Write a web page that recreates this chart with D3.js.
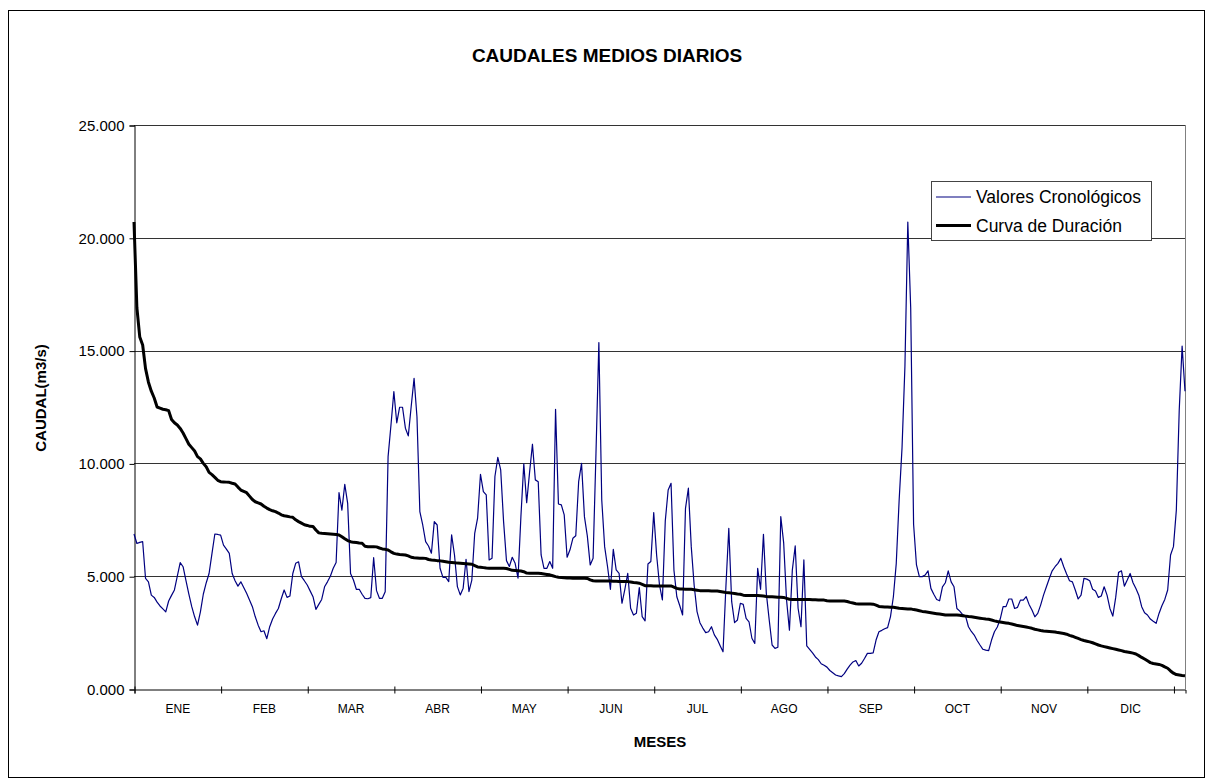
<!DOCTYPE html>
<html>
<head>
<meta charset="utf-8">
<script src="https://cdn.jsdelivr.net/npm/d3@7"></script>
<style>
  body { margin: 0; background: #fff; }
  svg text { font-family: 'Liberation Sans', Arial, sans-serif; fill: #000; }
</style>
</head>
<body>
<div class="main"></div>
<script>
const w = 1208;
const h = 783;

const months = ['ENE', 'FEB', 'MAR', 'ABR', 'MAY', 'JUN', 'JUL', 'AGO', 'SEP', 'OCT', 'NOV', 'DIC'];
const yTicks = [0, 5, 10, 15, 20, 25];
const legendNames = ['Valores Cronológicos', 'Curva de Duración'];

// caudal diario (m3/s), dia 0..364
const cronologicos = [
  6.87, 6.45, 6.5, 6.53, 4.9, 4.75, 4.16, 4.06, 3.85, 3.68,
  3.55, 3.42, 3.9, 4.15, 4.39, 5.0, 5.6, 5.42, 4.8, 4.2,
  3.65, 3.2, 2.83, 3.42, 4.2, 4.7, 5.12, 6.0, 6.87, 6.85,
  6.82, 6.38, 6.2, 6.01, 5.12, 4.8, 4.56, 4.75, 4.5, 4.24,
  3.95, 3.65, 3.2, 2.83, 2.54, 2.58, 2.23, 2.76, 3.1, 3.35,
  3.57, 4.0, 4.39, 4.06, 4.12, 5.12, 5.57, 5.64, 4.98, 4.8,
  4.61, 4.35, 4.09, 3.53, 3.75, 3.97, 4.53, 4.75, 5.0, 5.35,
  5.61, 8.71, 7.93, 9.07, 8.23, 5.12, 4.83, 4.42, 4.42, 4.2,
  4.02, 4.0, 4.05, 5.82, 4.36, 4.02, 4.02, 4.31, 10.3, 11.7,
  13.18, 11.8, 12.49, 12.49, 11.56, 11.22, 12.52, 13.77, 12.07, 7.86,
  7.27, 6.53, 6.34, 6.02, 7.42, 7.27, 5.35, 4.95, 4.95, 4.76,
  6.83, 5.94, 4.54, 4.17, 4.47, 5.75, 4.32, 4.83, 6.9, 7.57,
  9.52, 8.75, 8.6, 5.72, 5.8, 9.42, 10.27, 9.71, 7.42, 5.69,
  5.43, 5.84, 5.57, 4.91, 7.64, 9.98, 8.26, 9.6, 10.85, 9.27,
  9.19, 5.94, 5.35, 5.35, 5.65, 5.35, 12.4, 8.2, 8.16, 7.72,
  5.84, 6.17, 6.68, 6.79, 9.19, 10.0, 7.64, 6.79, 5.5, 5.8,
  10.45, 15.36, 8.38, 6.31, 5.43, 4.42, 6.19, 5.28, 5.13, 3.8,
  4.42, 5.13, 3.58, 3.28, 3.36, 4.5, 3.21, 3.02, 5.54, 5.65,
  7.82, 5.94, 4.61, 3.95, 7.45, 8.82, 9.12, 5.27, 4.09, 3.7,
  3.28, 8.01, 8.9, 6.31, 4.6, 3.43, 2.94, 2.7, 2.5, 2.54,
  2.76, 2.4, 2.2, 1.92, 1.65, 4.54, 7.12, 3.87, 2.94, 3.06,
  3.8, 3.75, 3.13, 2.98, 2.25, 2.02, 5.35, 4.42, 6.86, 4.24,
  3.06, 1.95, 1.8, 1.85, 7.64, 6.49, 3.95, 2.61, 5.27, 6.34,
  3.58, 2.76, 5.72, 1.91, 1.76, 1.6, 1.42, 1.3, 1.12, 1.05,
  0.97, 0.82, 0.72, 0.62, 0.58, 0.55, 0.68, 0.88, 1.06, 1.2,
  1.26, 1.02, 1.14, 1.35, 1.58, 1.58, 1.6, 2.17, 2.54, 2.6,
  2.67, 2.72, 3.21, 4.09, 5.57, 8.38, 10.7, 14.3, 20.7, 16.9,
  7.3, 5.5, 4.98, 4.98, 5.05, 5.24, 4.46, 4.2, 3.97, 3.91,
  4.53, 4.71, 5.24, 4.75, 4.53, 3.57, 3.45, 3.3, 3.23, 2.76,
  2.55, 2.39, 2.15, 1.95, 1.76, 1.72, 1.7, 2.17, 2.54, 2.75,
  3.1, 3.65, 3.65, 3.99, 3.99, 3.57, 3.62, 3.94, 3.94, 4.09,
  3.75, 3.5, 3.2, 3.35, 3.72, 4.16, 4.53, 4.9, 5.24, 5.42,
  5.57, 5.79, 5.42, 5.1, 4.8, 4.75, 4.39, 3.99, 4.16, 4.9,
  4.87, 4.8, 4.42, 4.34, 4.06, 4.12, 4.53, 4.16, 3.57, 3.23,
  4.06, 5.17, 5.24, 4.56, 4.83, 5.12, 4.71, 4.45, 4.16, 3.65,
  3.38, 3.28, 3.1, 3.0, 2.91, 3.35, 3.69, 3.97, 4.39, 5.94,
  6.31, 7.93, 12.36, 15.2, 13.2
];

// curva de duracion
const duracion = [
  20.7, 16.9, 15.6, 15.25, 14.2, 13.6, 13.2, 12.9, 12.5, 12.45,
  12.4, 12.38, 12.34, 11.95, 11.8, 11.7, 11.55, 11.35, 11.1, 10.85,
  10.7, 10.55, 10.3, 10.2, 10.0, 9.85, 9.6, 9.5, 9.38, 9.25,
  9.19, 9.18, 9.17, 9.16, 9.12, 9.09, 8.95, 8.82, 8.76, 8.7,
  8.55, 8.4, 8.3, 8.25, 8.2, 8.1, 8.02, 7.95, 7.9, 7.86,
  7.8, 7.72, 7.68, 7.66, 7.63, 7.61, 7.5, 7.42, 7.35, 7.28,
  7.25, 7.21, 7.2, 7.05, 6.92, 6.9, 6.89, 6.88, 6.87, 6.86,
  6.85, 6.83, 6.75, 6.66, 6.58, 6.53, 6.5, 6.49, 6.47, 6.46,
  6.33, 6.31, 6.31, 6.31, 6.3, 6.25, 6.21, 6.19, 6.16, 6.08,
  6.01, 5.98, 5.96, 5.95, 5.94, 5.9, 5.84, 5.82, 5.81, 5.8,
  5.8, 5.79, 5.74, 5.72, 5.71, 5.69, 5.68, 5.66, 5.64, 5.62,
  5.61, 5.6, 5.58, 5.57, 5.56, 5.55, 5.54, 5.53, 5.47, 5.41,
  5.4, 5.38, 5.36, 5.35, 5.35, 5.35, 5.35, 5.35, 5.35, 5.34,
  5.3, 5.26, 5.25, 5.24, 5.23, 5.2, 5.14, 5.13, 5.13, 5.13,
  5.13, 5.12, 5.1, 5.08, 5.06, 5.02, 4.98, 4.95, 4.94, 4.93,
  4.92, 4.92, 4.91, 4.91, 4.91, 4.91, 4.91, 4.9, 4.84, 4.8,
  4.79, 4.79, 4.79, 4.79, 4.79, 4.79, 4.78, 4.78, 4.77, 4.77,
  4.76, 4.76, 4.74, 4.72, 4.71, 4.69, 4.64, 4.58, 4.58, 4.58,
  4.57, 4.57, 4.57, 4.57, 4.57, 4.57, 4.57, 4.52, 4.46, 4.43,
  4.43, 4.42, 4.42, 4.42, 4.4, 4.38, 4.36, 4.35, 4.35, 4.35,
  4.34, 4.34, 4.34, 4.32, 4.3, 4.28, 4.27, 4.25, 4.23, 4.21,
  4.2, 4.16, 4.14, 4.14, 4.14, 4.14, 4.14, 4.13, 4.12, 4.1,
  4.09, 4.09, 4.08, 4.07, 4.07, 4.06, 4.02, 3.98, 3.97, 3.97,
  3.97, 3.97, 3.97, 3.97, 3.97, 3.96, 3.96, 3.95, 3.95, 3.94,
  3.91, 3.9, 3.9, 3.9, 3.9, 3.9, 3.9, 3.88, 3.84, 3.81,
  3.78, 3.77, 3.77, 3.77, 3.77, 3.77, 3.76, 3.72, 3.66, 3.65,
  3.64, 3.63, 3.62, 3.62, 3.6, 3.58, 3.57, 3.56, 3.55, 3.55,
  3.52, 3.5, 3.47, 3.44, 3.42, 3.4, 3.38, 3.36, 3.34, 3.32,
  3.3, 3.28, 3.28, 3.28, 3.28, 3.28, 3.27, 3.25, 3.23, 3.21,
  3.2, 3.18, 3.16, 3.14, 3.12, 3.1, 3.09, 3.06, 3.02, 2.99,
  2.97, 2.95, 2.93, 2.91, 2.88, 2.85, 2.81, 2.79, 2.77, 2.75,
  2.72, 2.69, 2.65, 2.62, 2.59, 2.57, 2.56, 2.55, 2.54, 2.53,
  2.5, 2.48, 2.46, 2.43, 2.38, 2.34, 2.29, 2.24, 2.19, 2.15,
  2.12, 2.09, 2.05, 2.0, 1.95, 1.91, 1.88, 1.85, 1.82, 1.79,
  1.76, 1.73, 1.7, 1.66, 1.64, 1.62, 1.59, 1.55, 1.48, 1.4,
  1.33, 1.25, 1.17, 1.13, 1.11, 1.09, 1.05, 0.98, 0.92, 0.8,
  0.7, 0.64, 0.62, 0.6, 0.59
];

const plot = { left: 134, right: 1185, top: 125, bottom: 689 };

const svg = d3.select('.main').append('svg').attr('width', w).attr('height', h);

// marco exterior
svg.append('rect')
  .attr('x', 8.5).attr('y', 10.5)
  .attr('width', 1196).attr('height', 767)
  .attr('fill', '#fff').attr('stroke', '#000').attr('stroke-width', 1);

const x = d3.scaleLinear().domain([0, cronologicos.length - 1]).range([plot.left, plot.right]);
const y = d3.scaleLinear().domain([0, 25]).range([plot.bottom, plot.top]);

// lineas de division
svg.append('g')
  .selectAll('line')
  .data(yTicks.filter((d) => d > 0))
  .enter()
  .append('line')
  .attr('x1', plot.left).attr('x2', plot.right)
  .attr('y1', (d) => Math.round(y(d)) + 0.5).attr('y2', (d) => Math.round(y(d)) + 0.5)
  .attr('stroke', '#333').attr('stroke-width', 1);

svg.append('line')
  .attr('x1', plot.right + 0.5).attr('x2', plot.right + 0.5)
  .attr('y1', plot.top).attr('y2', plot.bottom)
  .attr('stroke', '#808080');

// eje Y
const yAxis = svg.append('g')
  .attr('transform', `translate(${plot.left + 0.5},0.5)`)
  .call(d3.axisLeft(y).tickValues(yTicks).tickSize(5).tickPadding(5).tickFormat(d3.format('.3f')));
yAxis.selectAll('text').style('font-size', '15px');
yAxis.selectAll('line, path').attr('stroke', '#000');

// eje X
const xAxis = svg.append('g')
  .attr('transform', `translate(0.5,${plot.bottom + 0.5})`)
  .call(d3.axisBottom(x).tickValues(d3.range(0, 361, 30)).tickSizeOuter(0).tickSize(4).tickFormat(''));
xAxis.selectAll('.tick line').attr('y1', -3);
xAxis.selectAll('line, path').attr('stroke', '#000');

const monthAxis = svg.append('g')
  .attr('transform', `translate(0,${plot.bottom})`)
  .call(d3.axisBottom(x).tickValues(months.map((m, i) => i * 30 + 15)).tickSize(0).tickPadding(15)
    .tickFormat((d, i) => months[i]));
monthAxis.select('.domain').remove();
monthAxis.selectAll('text').style('font-size', '12px');

// series
const line = d3.line().x((d, i) => x(i)).y((d) => y(d));

svg.append('path')
  .datum(cronologicos)
  .attr('fill', 'none')
  .attr('stroke', '#000080')
  .attr('stroke-width', 1.2)
  .attr('stroke-linejoin', 'round')
  .attr('d', line);

svg.append('path')
  .datum(duracion)
  .attr('fill', 'none')
  .attr('stroke', '#000')
  .attr('stroke-width', 3)
  .attr('stroke-linejoin', 'round')
  .attr('d', line);

// titulos
svg.append('text')
  .attr('x', 607).attr('y', 62)
  .attr('text-anchor', 'middle')
  .style('font-size', '19px').style('font-weight', 'bold')
  .text('CAUDALES MEDIOS DIARIOS');

svg.append('text')
  .attr('x', 660).attr('y', 747)
  .attr('text-anchor', 'middle')
  .style('font-size', '15px').style('font-weight', 'bold')
  .text('MESES');

svg.append('text')
  .attr('transform', 'translate(46,398) rotate(-90)')
  .attr('text-anchor', 'middle')
  .style('font-size', '15px').style('font-weight', 'bold')
  .text('CAUDAL(m3/s)');

// leyenda
const legend = svg.append('g').attr('transform', 'translate(931,181)');
legend.append('rect')
  .attr('x', 0.5).attr('y', 0.5).attr('width', 220).attr('height', 59)
  .attr('fill', '#fff').attr('stroke', '#444');

const legendStyles = [
  { color: '#000080', width: 1.2 },
  { color: '#000', width: 3 }
];

const items = legend.selectAll('.item')
  .data(legendNames)
  .enter()
  .append('g')
  .attr('class', 'item')
  .attr('transform', (d, i) => `translate(0,${16 + i * 28.5})`);

items.append('line')
  .attr('x1', 5).attr('x2', 40)
  .attr('stroke', (d, i) => legendStyles[i].color)
  .attr('stroke-width', (d, i) => legendStyles[i].width);

items.append('text')
  .attr('x', 45).attr('y', 6)
  .style('font-size', '17.5px')
  .text((d) => d);
</script>
</body>
</html>
